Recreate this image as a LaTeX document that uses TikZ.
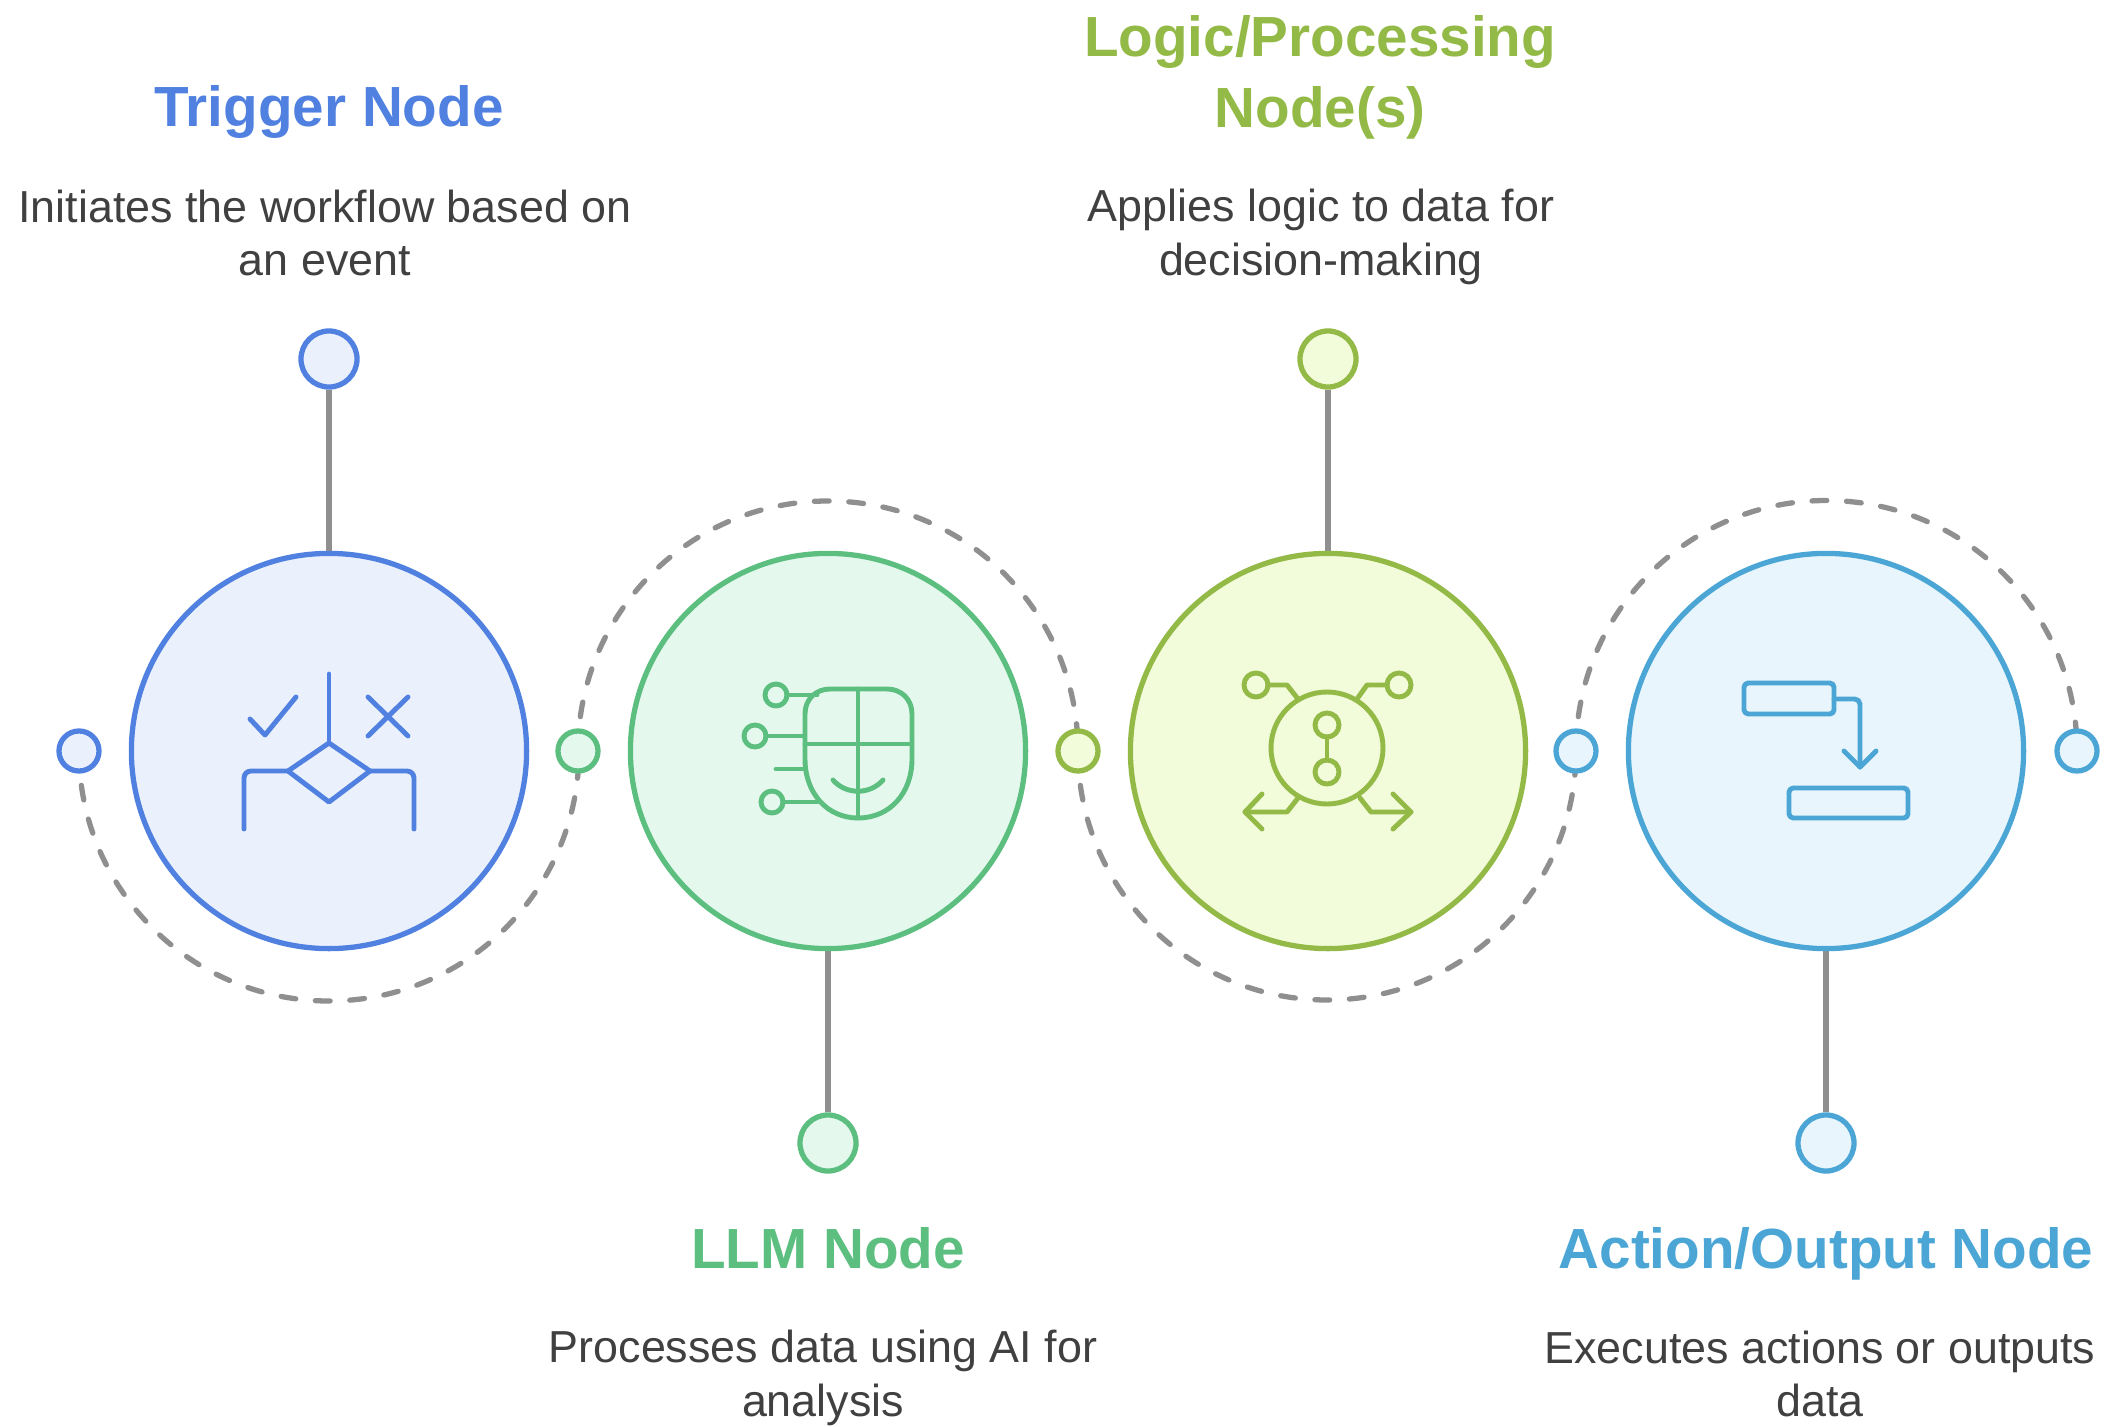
\documentclass[tikz,border=0pt]{standalone}
\usepackage{fontspec}
\usepackage{xcolor}
\setmainfont{Liberation Sans}
\usetikzlibrary{backgrounds}
\definecolor{trigblue}{HTML}{5080E0}
\definecolor{trigfill}{HTML}{EBF1FC}
\definecolor{llmgreen}{HTML}{5CBF80}
\definecolor{llmfill}{HTML}{E5F8EE}
\definecolor{logicolive}{HTML}{93B946}
\definecolor{logicfill}{HTML}{F2FBDA}
\definecolor{actsky}{HTML}{4BA6D6}
\definecolor{actfill}{HTML}{E9F5FC}
\definecolor{stemgray}{HTML}{8F8F8F}
\definecolor{bodygray}{HTML}{404040}

\begin{document}
\begin{tikzpicture}[x=0.01cm,y=-0.01cm]
          \tikzset{
            BigStyle/.style = { circle, draw, line width = 1.5pt,
              minimum size = 3.95cm, inner sep = 0pt },
            TopStyle/.style = { circle, draw, line width = 1.5pt,
              minimum size = 0.56cm, inner sep = 0pt },
            DotStyle/.style = { circle, draw, line width = 1.5pt,
              minimum size = 0.40cm, inner sep = 0pt },
            TitleStyle/.style = { inner sep = 0pt, align = center,
              font = \fontsize{16.1}{20.2}\selectfont\bfseries },
            TextStyle/.style = { inner sep = 0pt, align = center,
              text = bodygray, font = \fontsize{12.75}{15.3}\selectfont },
            StemStyle/.style = { draw = stemgray, line width = 1.6pt },
            RingStyle/.style = { draw = stemgray, line width = 1.5pt,
              line cap = round, dash pattern = on 4.2pt off 5.6pt },
            IconStyle/.style = { line width = 1.4pt, line cap = round,
              line join = round }
          }
          \useasboundingbox (0,0) rectangle (2105,1427);

          % big circles
          \node[BigStyle, draw=trigblue, fill=trigfill] (TRIG) at (329,751) {};
          \node[BigStyle, draw=llmgreen, fill=llmfill] (LLM) at (828,751) {};
          \node[BigStyle, draw=logicolive, fill=logicfill] (LOGIC) at (1328,751) {};
          \node[BigStyle, draw=actsky, fill=actfill] (ACT) at (1826,751) {};

          % end circles of the stems
          \node[TopStyle, draw=trigblue, fill=trigfill] (TRIGtop) at (329,359) {};
          \node[TopStyle, draw=llmgreen, fill=llmfill] (LLMtop) at (828,1143) {};
          \node[TopStyle, draw=logicolive, fill=logicfill] (LOGICtop) at (1328,359) {};
          \node[TopStyle, draw=actsky, fill=actfill] (ACTtop) at (1826,1143) {};

          % dots on the dashed rings
          \node[DotStyle, draw=trigblue, fill=trigfill] (DOTa) at (79,751) {};
          \node[DotStyle, draw=llmgreen, fill=llmfill] (DOTb) at (578,751) {};
          \node[DotStyle, draw=logicolive, fill=logicfill] (DOTc) at (1078,751) {};
          \node[DotStyle, draw=actsky, fill=actfill] (DOTd) at (1576,751) {};
          \node[DotStyle, draw=actsky, fill=actfill] (DOTe) at (2077,751) {};

          \begin{scope}[on background layer]
          \draw[StemStyle] (TRIGtop) -- (TRIG);
          \draw[StemStyle] (LLMtop) -- (LLM);
          \draw[StemStyle] (LOGICtop) -- (LOGIC);
          \draw[StemStyle] (ACTtop) -- (ACT);
          \draw[RingStyle] (DOTa.center) arc[start angle=180, end angle=0, radius=250];
          \draw[RingStyle] (DOTb.center) arc[start angle=180, end angle=360, radius=250];
          \draw[RingStyle] (DOTc.center) arc[start angle=180, end angle=0, radius=249];
          \draw[RingStyle] (DOTd.center) arc[start angle=180, end angle=360, radius=250.5];
          \end{scope}

          % titles
          \node[TitleStyle, text=trigblue] (TRIGtitle) at (329,112) {Trigger Node};
          \node[TitleStyle, text=llmgreen] (LLMtitle) at (828,1248) {LLM Node};
          \node[TitleStyle, text=logicolive] (LOGICtitle) at (1320,77) {Logic/Processing\\Node(s)};
          \node[TitleStyle, text=actsky] (ACTtitle) at (1826,1254) {Action/Output Node};

          % descriptions
          \node[TextStyle] (TRIGtext) at (325,233) {Initiates the workflow based on\\an event};
          \node[TextStyle] (LLMtext) at (823,1378) {Processes data using AI for\\analysis};
          \node[TextStyle] (LOGICtext) at (1321,237) {Applies logic to data for\\decision-making};
          \node[TextStyle] (ACTtext) at (1820,1374) {Executes actions or outputs\\data};

          % icon of the trigger
          \begin{scope}[shift={(TRIG.center)}, IconStyle, draw=trigblue]
          \draw (0,-77) -- (0,-9);
          \draw (0,-8) -- (41,20) -- (0,51) -- (-41,20) -- cycle;
          \draw[rounded corners=2pt] (-41,20) -- (-85,20) -- (-85,78);
          \draw[rounded corners=2pt] (41,20) -- (85,20) -- (85,78);
          \draw (-79,-32) -- (-64,-16) -- (-33,-54);
          \draw (39,-54) -- (79,-15);
          \draw (79,-54) -- (39,-15);
          \end{scope}

          % icon of the llm
          \begin{scope}[shift={(LLM.center)}, IconStyle, draw=llmgreen]
          \draw (-23,-7) -- (-23,-37) .. controls (-23,-52) and (-12,-62) .. (2,-62)
            -- (59,-62) .. controls (73,-62) and (84,-52) .. (84,-37)
            -- (84,8) .. controls (84,42) and (62,67) .. (30,67)
            .. controls (-1,67) and (-23,42) .. (-23,8) -- cycle;
          \draw (-23,-7) -- (84,-7);
          \draw (30,-62) -- (30,67);
          \draw (5,29) .. controls (18,44) and (42,44) .. (55,29);
          \draw (-52,-56) circle[radius=11];
          \draw (-73,-15) circle[radius=11];
          \draw (-56,51) circle[radius=11];
          \draw (-41,-56) -- (-11,-56);
          \draw (-62,-15) -- (-25,-15);
          \draw (-52,18) -- (-25,18);
          \draw (-45,51) -- (-11,51);
          \end{scope}

          % icon of the logic
          \begin{scope}[shift={(LOGIC.center)}, IconStyle, draw=logicolive]
          \draw (-1,-3) circle[radius=56];
          \draw (-1,-26) circle[radius=12];
          \draw (-1,21) circle[radius=12];
          \draw (-1,-14) -- (-1,9);
          \draw (-72,-66) circle[radius=12];
          \draw (71,-66) circle[radius=12];
          \draw (-60,-66) -- (-41,-66) -- (-30,-52);
          \draw (59,-66) -- (39,-66) -- (29,-52);
          \draw (-30,47) -- (-41,61) -- (-83,61);
          \draw (-66,43) -- (-83,61) -- (-66,78);
          \draw (32,47) -- (43,61) -- (83,61);
          \draw (65,43) -- (83,61) -- (65,78);
          \end{scope}

          % icon of the action
          \begin{scope}[shift={(ACT.center)}, IconStyle, draw=actsky]
          \draw[rounded corners=1.2pt] (-82,-68) rectangle (8,-37);
          \draw[rounded corners=1.2pt] (-37,37) rectangle (82,67);
          \draw[rounded corners=1.5pt] (8,-52) -- (34,-52) -- (34,16);
          \draw (18,0) -- (34,16) -- (50,0);
          \end{scope}
        \end{tikzpicture}
\end{document}
